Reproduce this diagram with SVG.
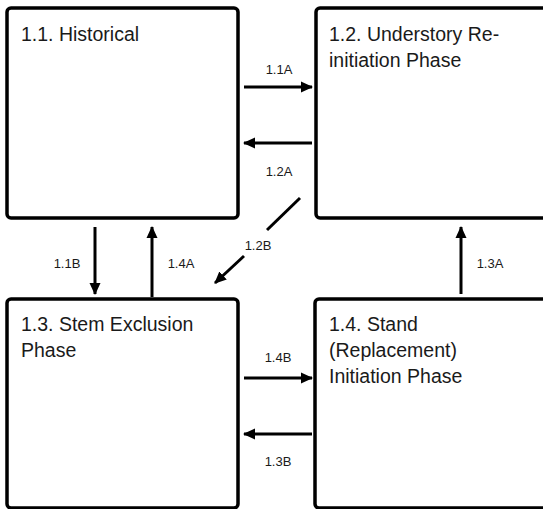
<svg xmlns="http://www.w3.org/2000/svg" width="543" height="509" viewBox="0 0 543 509">
<style>
.box{fill:#fff;stroke:#000;stroke-width:3.5}
.t{font-family:"Liberation Sans",Arial,sans-serif;font-size:19.5px;fill:#1a1a1a}
.l{font-family:"Liberation Sans",Arial,sans-serif;font-size:13px;fill:#1a1a1a;text-anchor:middle}
.c{stroke:#000;stroke-width:3;fill:none}
</style>
<defs>
<marker id="ah" markerUnits="userSpaceOnUse" markerWidth="12" markerHeight="12" viewBox="0 0 12 12" refX="11" refY="6" orient="auto">
<path d="M0,0.5 L12,6 L0,11.5 Z" fill="#000"/>
</marker>
</defs>
<rect width="543" height="509" fill="#fff"/>
<g id="n11"><rect class="box" x="7" y="8" width="231" height="210" rx="4"/><text class="t" x="21" y="41">1.1. Historical</text></g>
<g id="n12"><rect class="box" x="316" y="8" width="240" height="210" rx="4"/><text class="t" x="329" y="41">1.2. Understory Re-</text><text class="t" x="329" y="67">initiation Phase</text></g>
<g id="n13"><rect class="box" x="7" y="299" width="231" height="209" rx="4"/><text class="t" x="21" y="331">1.3. Stem Exclusion</text><text class="t" x="21" y="357">Phase</text></g>
<g id="n14"><rect class="box" x="315" y="299" width="240" height="209" rx="4"/><text class="t" x="329" y="331">1.4. Stand</text><text class="t" x="329" y="357">(Replacement)</text><text class="t" x="329" y="383">Initiation Phase</text></g>
<g id="connectors">
<line class="c" x1="244" y1="87" x2="312" y2="87" marker-end="url(#ah)"/>
<line class="c" x1="312" y1="143" x2="244" y2="143" marker-end="url(#ah)"/>
<line class="c" x1="95" y1="227" x2="95" y2="294" marker-end="url(#ah)"/>
<line class="c" x1="152" y1="297" x2="152" y2="227" marker-end="url(#ah)"/>
<line class="c" x1="461" y1="294" x2="461" y2="227" marker-end="url(#ah)"/>
<line class="c" x1="244" y1="378" x2="312" y2="378" marker-end="url(#ah)"/>
<line class="c" x1="312" y1="434" x2="244" y2="434" marker-end="url(#ah)"/>
<line class="c" x1="300" y1="198" x2="267" y2="230"/>
<line class="c" x1="244" y1="256" x2="215" y2="283" marker-end="url(#ah)"/>
</g>
<g id="labels">
<text class="l" x="279" y="74">1.1A</text>
<text class="l" x="279" y="176">1.2A</text>
<text class="l" x="258" y="250">1.2B</text>
<text class="l" x="67" y="268">1.1B</text>
<text class="l" x="181" y="268">1.4A</text>
<text class="l" x="490" y="268">1.3A</text>
<text class="l" x="278" y="362">1.4B</text>
<text class="l" x="278" y="466">1.3B</text>
</g>
</svg>
